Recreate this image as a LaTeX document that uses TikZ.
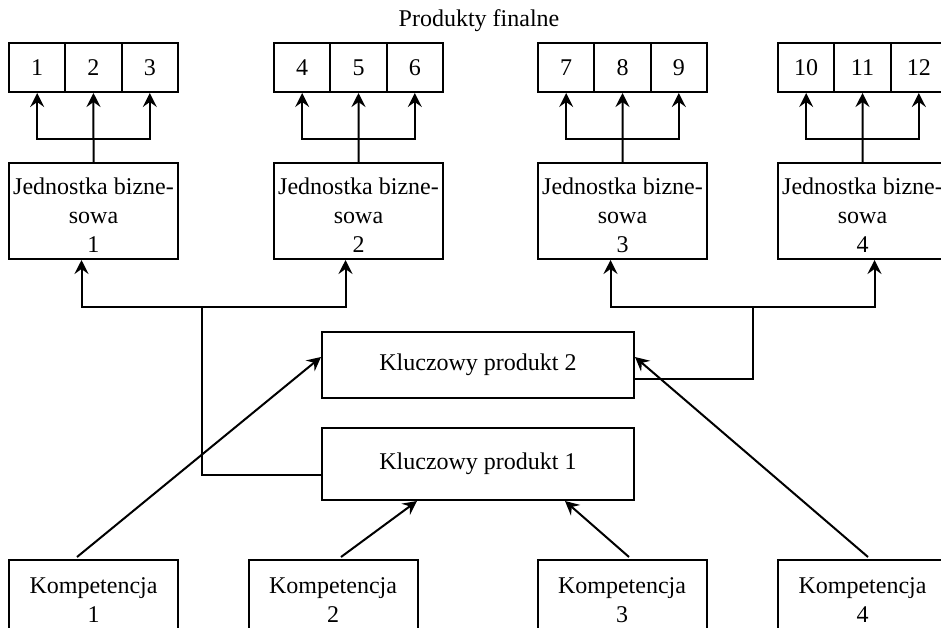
\documentclass[tikz,border=0pt]{standalone}
\usepackage{fontspec}
\setmainfont{Liberation Serif}
\usetikzlibrary{arrows.meta, calc}
\newcommand{\nizej}[1]{\raisebox{-3.5pt}[\height][\depth]{\begin{tabular}{@{}c@{}}#1\end{tabular}}}

\begin{document}
\begin{tikzpicture}[
    x=0.5pt, y=-0.5pt,
    >={Stealth[length=7pt, width=7pt, inset=2.5pt]},
    every node/.style={font=\fontsize{12}{14.5}\selectfont},
    komorka/.style={draw, line width=1pt, minimum width=28.17pt, minimum height=24.5pt, inner sep=0pt},
    jednostka/.style={draw, line width=1pt, minimum width=84.5pt, minimum height=48pt, inner sep=0pt},
    kluczowy/.style={draw, line width=1pt, minimum width=156pt, inner sep=0pt},
    kompetencja/.style={draw, line width=1pt, minimum width=84.5pt, minimum height=40pt, align=center, inner sep=0pt},
    strzalka/.style={->, line width=1pt},
    linia/.style={line width=1pt}
]
\useasboundingbox (0,0) rectangle (941,627);

% Produkty finalne
\node (tytul) at (479,21) {Produkty finalne};
\foreach \g/\x in {1/9, 2/274, 3/538, 4/778} {
    \foreach \i in {1,2,3} {
        \pgfmathtruncatemacro{\n}{3*(\g-1)+\i}
        \node[komorka] (p\n) at ({\x+56.33*(\i-0.5)}, 67.5) {\n};
    }
}

% Jednostki biznesowe
\node[jednostka] (jb1) at (93.5,211) {\nizej{Jednostka bizne-\\sowa\\1}};
\node[jednostka] (jb2) at (358.5,211) {\nizej{Jednostka bizne-\\sowa\\2}};
\node[jednostka] (jb3) at (622.5,211) {\nizej{Jednostka bizne-\\sowa\\3}};
\node[jednostka] (jb4) at (862.5,211) {\nizej{Jednostka bizne-\\sowa\\4}};

\foreach \g in {1,...,4} {
    \pgfmathtruncatemacro{\a}{3*\g-2}
    \pgfmathtruncatemacro{\b}{3*\g-1}
    \pgfmathtruncatemacro{\c}{3*\g}
    \draw[strzalka] (jb\g.north) -- (p\b.south);
    \draw[strzalka] (jb\g.north) ++(0,-23) -| (p\a.south);
    \draw[strzalka] (jb\g.north) ++(0,-23) -| (p\c.south);
}

% Kluczowe produkty
\node[kluczowy, minimum height=33pt] (kp2) at (478,365) {Kluczowy produkt 2};
\node[kluczowy, minimum height=36pt] (kp1) at (478,464) {Kluczowy produkt 1};

\coordinate (w1) at (202,307);
\coordinate (w2) at (753,307);
\draw[linia] ($(kp1.west)+(0,11)$) -| (w1);
\draw[strzalka] (w1) -| ($(jb1.south)+(-12,0)$);
\draw[strzalka] (w1) -| ($(jb2.south)+(-13,0)$);
\draw[linia] ($(kp2.east)+(0,14)$) -| (w2);
\draw[strzalka] (w2) -| ($(jb3.south)+(-12,0)$);
\draw[strzalka] (w2) -| ($(jb4.south)+(12,0)$);

% Kompetencje
\node[kompetencja] (k1) at (93.5,600) {Kompetencja\\1};
\node[kompetencja] (k2) at (333,600) {Kompetencja\\2};
\node[kompetencja] (k3) at (622,600) {Kompetencja\\3};
\node[kompetencja] (k4) at (862.5,600) {Kompetencja\\4};

\draw[strzalka] ($(k1.north)+(-16.5,-2)$) -- ($(kp2.west)+(0,-8)$);
\draw[strzalka] ($(k2.north)+(8,-2)$) -- ($(kp1.south)+(-61,0)$);
\draw[strzalka] ($(k3.north)+(7,-2)$) -- ($(kp1.south)+(87,0)$);
\draw[strzalka] ($(k4.north)+(5.5,-2)$) -- ($(kp2.east)+(0,-8)$);

\end{tikzpicture}
\end{document}
